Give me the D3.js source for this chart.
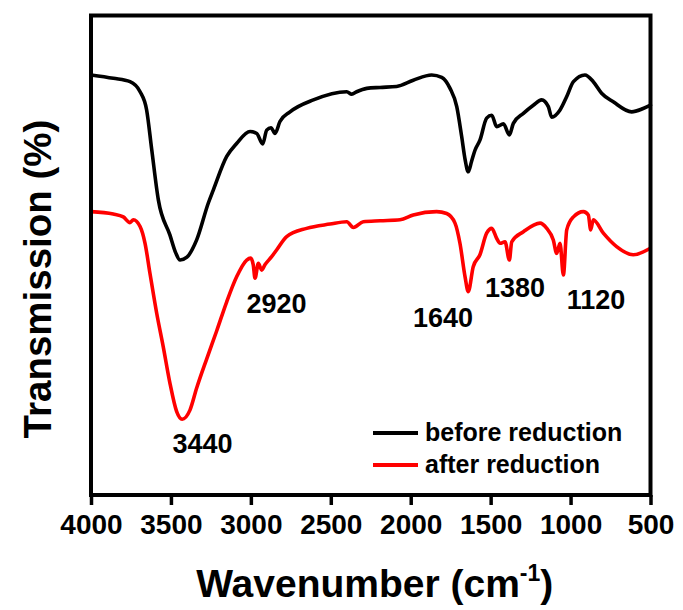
<!DOCTYPE html>
<html>
<head>
<meta charset="utf-8">
<script src="https://cdn.jsdelivr.net/npm/d3@7"></script>
<style>
  html, body { margin: 0; padding: 0; background: #fff; }
  svg text { font-family: "Liberation Sans", Arial, sans-serif; font-weight: bold; fill: #000; }
</style>
</head>
<body>
<svg id="chart" width="683" height="610"></svg>
<script>
// Wavenumbers (cm-1) and transmission (arbitrary units)
const beforeWave = [4000, 3860, 3756, 3693, 3652, 3620, 3579, 3506, 3470, 3443, 3400, 3339, 3266, 3235, 3151, 3089, 3005, 2963, 2926, 2901, 2874, 2849, 2818, 2755, 2609, 2400, 2369, 2338, 2275, 2192, 2088, 1984, 1869, 1806, 1754, 1712, 1681, 1660, 1640, 1620, 1598, 1567, 1525, 1493, 1462, 1420, 1383, 1358, 1295, 1233, 1181, 1139, 1118, 1066, 1024, 982, 910, 858, 806, 733, 618, 546, 500];
const beforeT    = [87.6, 86.9, 86.2, 84.1, 80.3, 72.0, 61.6, 54.2, 50.5, 49.0, 49.6, 53.2, 60.9, 63.6, 70.6, 73.3, 75.8, 75.4, 73.2, 76.1, 76.6, 75.4, 77.9, 79.9, 82.4, 84.1, 83.6, 84.1, 84.8, 85.0, 85.2, 86.5, 87.6, 87.1, 84.8, 81.0, 74.7, 70.0, 67.4, 69.5, 71.9, 74.0, 78.6, 79.2, 76.8, 77.4, 75.1, 77.5, 79.6, 81.3, 82.4, 81.0, 78.8, 80.3, 83.1, 86.2, 87.6, 86.2, 83.8, 82.0, 79.9, 80.6, 81.3];

const afterWave = [4000, 3861, 3798, 3756, 3735, 3693, 3662, 3631, 3589, 3548, 3506, 3464, 3430, 3381, 3339, 3276, 3214, 3151, 3089, 3026, 3001, 2985, 2974, 2953, 2932, 2912, 2870, 2839, 2776, 2651, 2505, 2400, 2359, 2297, 2192, 2067, 1984, 1838, 1775, 1723, 1692, 1660, 1640, 1609, 1567, 1525, 1493, 1462, 1441, 1410, 1383, 1368, 1295, 1191, 1149, 1108, 1087, 1066, 1045, 1024, 982, 920, 889, 874, 858, 795, 712, 608, 504];
const afterT    = [59.1, 58.6, 58.0, 56.8, 57.4, 56.0, 52.5, 46.2, 37.9, 30.9, 23.3, 17.4, 15.8, 17.7, 22.3, 28.4, 34.2, 40.3, 45.5, 49.0, 49.4, 48.0, 45.2, 48.3, 46.9, 48.0, 49.7, 51.1, 53.9, 55.6, 56.5, 57.0, 55.8, 57.0, 57.2, 57.4, 58.4, 59.1, 58.7, 56.7, 52.5, 45.5, 42.4, 47.6, 50.1, 54.6, 55.6, 53.5, 52.5, 52.8, 49.0, 52.8, 54.9, 56.7, 55.6, 53.2, 50.4, 52.5, 45.9, 55.3, 58.0, 59.1, 58.4, 55.3, 57.4, 54.6, 51.8, 50.1, 51.4];

const xTicks = [4000, 3500, 3000, 2500, 2000, 1500, 1000, 500];
const seriesNames = ["before reduction", "after reduction"];
const seriesColors = ["#000000", "#ff0000"];
const peakLabels = ["3440", "2920", "1640", "1380", "1120"];

const svg = d3.select("#chart");
const mLeft = 91, mRight = 650.5, mTop = 15.5, mBottom = 495;

const x = d3.scaleLinear().domain([4000, 500]).range([mLeft, mRight]);
const y = d3.scaleLinear().domain([0, 100]).range([mBottom, mTop]);

const line = d3.line()
  .x(d => x(d[0])).y(d => y(d[1]))
  .curve(d3.curveMonotoneX);

const series = [
  d3.zip(beforeWave, beforeT),
  d3.zip(afterWave, afterT)
];

series.forEach((s, i) => {
  svg.append("path")
    .datum(s)
    .attr("d", line)
    .attr("fill", "none")
    .attr("stroke", seriesColors[i])
    .attr("stroke-width", 3.6)
    .attr("stroke-linejoin", "round")
    .attr("stroke-linecap", "round");
});

// frame
svg.append("rect")
  .attr("x", mLeft).attr("y", mTop)
  .attr("width", mRight - mLeft).attr("height", mBottom - mTop)
  .attr("fill", "none").attr("stroke", "#000").attr("stroke-width", 4);

// x axis
const xAxis = d3.axisBottom(x).tickValues(xTicks).tickSize(10).tickPadding(8).tickFormat(d3.format("d"));
const gx = svg.append("g").attr("transform", `translate(0,${mBottom})`).call(xAxis);
gx.select(".domain").remove();
gx.selectAll(".tick line").attr("stroke", "#000").attr("stroke-width", 3.5);
gx.selectAll(".tick text")
  .attr("font-size", 28)
  .attr("font-family", "Liberation Sans, Arial, sans-serif")
  .attr("font-weight", "bold")
  .attr("fill", "#000")
  .attr("dy", "0.75em");

// axis titles
const xt = svg.append("text")
  .attr("x", (mLeft + mRight) / 2 + 4).attr("y", 597)
  .attr("text-anchor", "middle")
  .attr("font-size", 39);
xt.append("tspan").text("Wavenumber (cm");
xt.append("tspan").text("-1").attr("font-size", 23).attr("dy", -16);
xt.append("tspan").text(")").attr("dy", 16);

svg.append("text")
  .attr("transform", "translate(51,279) rotate(-90)")
  .attr("text-anchor", "middle")
  .attr("font-size", 38.5)
  .text("Transmission (%)");

// peak annotations
const annPos = [[202.5, 453], [276.5, 313], [443, 327], [515, 297], [596, 309]];
peakLabels.forEach((t, i) => {
  svg.append("text")
    .attr("x", annPos[i][0]).attr("y", annPos[i][1])
    .attr("text-anchor", "middle")
    .attr("font-size", 27)
    .text(t);
});

// legend
seriesNames.forEach((n, i) => {
  const ly = 433 + i * 32;
  svg.append("line")
    .attr("x1", 373).attr("x2", 418).attr("y1", ly).attr("y2", ly)
    .attr("stroke", seriesColors[i]).attr("stroke-width", 4);
  svg.append("text")
    .attr("x", 425).attr("y", ly + 7.5)
    .attr("font-size", 25)
    .text(n);
});
</script>
</body>
</html>
